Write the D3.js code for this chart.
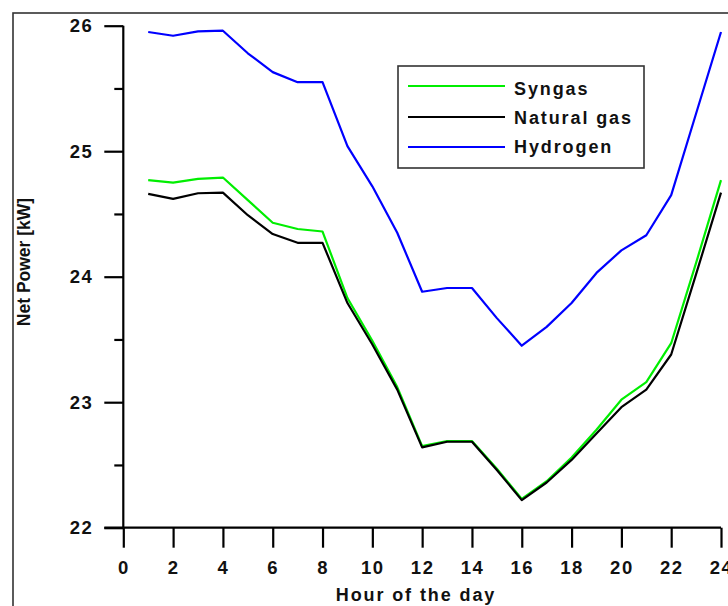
<!DOCTYPE html>
<html>
<head>
<meta charset="utf-8">
<script src="https://cdn.jsdelivr.net/npm/d3@7"></script>
<style>
  html, body { margin: 0; padding: 0; background: #fff; }
  svg { display: block; }
  text { font-family: "Liberation Sans", Arial, sans-serif; font-weight: bold; fill: #111; }
</style>
</head>
<body>
<svg id="chart" width="728" height="606"></svg>
<script>
// Hourly net power output per fuel
const hours = [1,2,3,4,5,6,7,8,9,10,11,12,13,14,15,16,17,18,19,20,21,22,23,24];
const syngas = [24.77,24.75,24.78,24.79,24.61,24.43,24.38,24.36,23.83,23.49,23.12,22.65,
                22.69,22.69,22.47,22.23,22.37,22.56,22.78,23.02,23.16,23.47,24.11,24.77];
const naturalGas = [24.66,24.62,24.665,24.67,24.49,24.34,24.27,24.27,23.79,23.46,23.10,22.64,
                    22.685,22.685,22.46,22.22,22.36,22.54,22.75,22.96,23.10,23.38,24.02,24.67];
const hydrogen = [25.95,25.92,25.955,25.96,25.78,25.63,25.55,25.55,25.04,24.72,24.35,23.88,
                  23.91,23.91,23.67,23.45,23.60,23.79,24.03,24.21,24.33,24.65,25.30,25.95];
const seriesNames = ["Syngas", "Natural gas", "Hydrogen"];
const seriesColors = ["#00ee00", "#000000", "#0000ff"];
const xTicks = [0,2,4,6,8,10,12,14,16,18,20,22,24];
const yMajor = [22,23,24,25,26];
const yMinor = [22.5,23.5,24.5,25.5];

const svg = d3.select("#chart");

// Outer frame
svg.append("rect")
  .attr("x", 13).attr("y", 13).attr("width", 760).attr("height", 640)
  .attr("fill", "none").attr("stroke", "#333").attr("stroke-width", 1.6);

const x = d3.scaleLinear().domain([0, 24]).range([123.3, 721]);
const y = d3.scaleLinear().domain([22, 26]).range([527.7, 25.7]);

// Y axis: major ticks with labels, minor ticks without
const yAxis = svg.append("g").attr("transform", `translate(${x(0)},0)`)
  .call(d3.axisLeft(y).tickValues(yMajor).tickSize(19).tickPadding(11).tickFormat(d3.format("d")));
svg.append("g").attr("transform", `translate(${x(0)},0)`)
  .call(d3.axisLeft(y).tickValues(yMinor).tickSize(9).tickFormat(""))
  .call(g => g.select(".domain").remove());

// X axis
const xAxis = svg.append("g").attr("transform", `translate(0,${y(22)})`)
  .call(d3.axisBottom(x).tickValues(xTicks).tickSize(20).tickPadding(13).tickFormat(d3.format("d")));

svg.selectAll(".domain").attr("stroke", "#000").attr("stroke-width", 2.2);
svg.selectAll(".tick line").attr("stroke", "#000").attr("stroke-width", 2.2);
svg.selectAll(".tick text")
  .attr("fill", "#111")
  .style("font-size", "18.5px")
  .style("font-weight", "bold")
  .style("letter-spacing", "1.5px")
  .style("font-family", "'Liberation Sans', Arial, sans-serif");
// remove outer tick caps of the domain paths
yAxis.select(".domain").attr("d", `M0,${y(26)}V${y(22)}`);
xAxis.select(".domain").attr("d", `M${x(0) - 19},0H${x(24)}`);

// Axis titles
svg.append("text")
  .attr("x", 416).attr("y", 601)
  .attr("text-anchor", "middle")
  .style("font-size", "18px")
  .style("letter-spacing", "1.9px")
  .text("Hour of the day");

svg.append("text")
  .attr("transform", "translate(30,262) rotate(-90)")
  .attr("text-anchor", "middle")
  .style("font-size", "17.5px")
  .text("Net Power [kW]");

// Lines
const line = d3.line().x((d, i) => x(hours[i])).y(d => y(d));
const allSeries = [syngas, naturalGas, hydrogen];
svg.append("g").selectAll("path")
  .data(allSeries)
  .join("path")
  .attr("d", d => line(d))
  .attr("fill", "none")
  .attr("stroke", (d, i) => seriesColors[i])
  .attr("stroke-width", 2.2)
  .attr("stroke-linejoin", "round");

// Legend
const legend = svg.append("g");
legend.append("rect")
  .attr("x", 398).attr("y", 66).attr("width", 246).attr("height", 102)
  .attr("fill", "#fff").attr("stroke", "#333").attr("stroke-width", 1.6);
const legendY = [86, 117, 147];
const legendTextY = [95, 124, 153];
seriesNames.forEach((name, i) => {
  legend.append("line")
    .attr("x1", 408).attr("x2", 505)
    .attr("y1", legendY[i]).attr("y2", legendY[i])
    .attr("stroke", seriesColors[i]).attr("stroke-width", 2.2);
  legend.append("text")
    .attr("x", 514).attr("y", legendTextY[i])
    .style("font-size", "18px")
    .style("letter-spacing", "1.9px")
    .text(name);
});
</script>
</body>
</html>
